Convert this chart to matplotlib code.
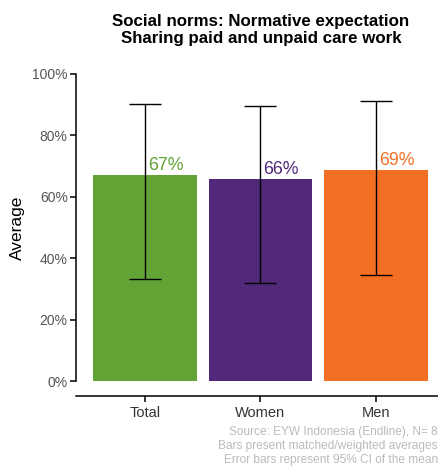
import matplotlib.pyplot as plt
from matplotlib.ticker import PercentFormatter

plt.rcParams['font.family'] = ['Liberation Sans', 'DejaVu Sans']

# Matched/weighted averages with 95% CI
groups = ['Total', 'Women', 'Men']
means = [0.67, 0.657, 0.688]
ci_low = [0.332, 0.319, 0.345]
ci_high = [0.902, 0.896, 0.913]
colors = ['#62A336', '#52297A', '#F36F24']

W, H = 439, 469
fig = plt.figure(figsize=(W / 100, H / 100), dpi=100)
# panel runs past the right edge of the canvas
ax = fig.add_axes([76 / W, 1 - 396.4 / H, 369 / W, 337.8 / H])

x = range(1, len(groups) + 1)
ax.bar(x, means, width=0.9, color=colors, zorder=2)

err_lo = [m - lo for m, lo in zip(means, ci_low)]
err_hi = [hi - m for m, hi in zip(means, ci_high)]
ax.errorbar(x, means, yerr=[err_lo, err_hi], fmt='none', ecolor='black',
            elinewidth=1.0, capsize=11.5, capthick=1.0, zorder=3)

for xi, m, c in zip(x, means, colors):
    ax.text(xi + 0.025, m + 0.004, f'{m:.0%}', color=c, fontsize=12.8,
            ha='left', va='bottom', zorder=4)

ax.set_xlim(0.4, 3.6)
ax.set_ylim(-0.05, 1.05)
ax.set_xticks(list(x))
ax.set_xticklabels(groups)
ax.set_yticks([0, 0.2, 0.4, 0.6, 0.8, 1.0])
ax.yaxis.set_major_formatter(PercentFormatter(1.0, decimals=0))

for side in ['top', 'right']:
    ax.spines[side].set_visible(False)
ax.spines['left'].set_bounds(0, 1)
ax.spines['left'].set_linewidth(1.1)
ax.spines['bottom'].set_linewidth(1.1)
ax.tick_params(axis='both', length=4, width=1.1, color='black')
ax.tick_params(axis='y', labelsize=10, labelcolor='#555555', pad=2)
ax.tick_params(axis='x', labelsize=10.5, labelcolor='#333333', pad=3)

ax.set_ylabel('Average', fontsize=12.5, labelpad=5)

fig.text(261 / W, 1 - 30 / H,
         'Social norms: Normative expectation\nSharing paid and unpaid care work',
         ha='center', va='center', fontsize=12.2, fontweight='bold',
         linespacing=1.12)

fig.text(438 / W, 1 - 446 / H,
         'Source: EYW Indonesia (Endline), N= 8\n'
         'Bars present matched/weighted averages\n'
         'Error bars represent 95% CI of the mean',
         ha='right', va='center', fontsize=8.6, color='#BBBBBB',
         linespacing=1.2)

fig.savefig('out.png', dpi=100)
